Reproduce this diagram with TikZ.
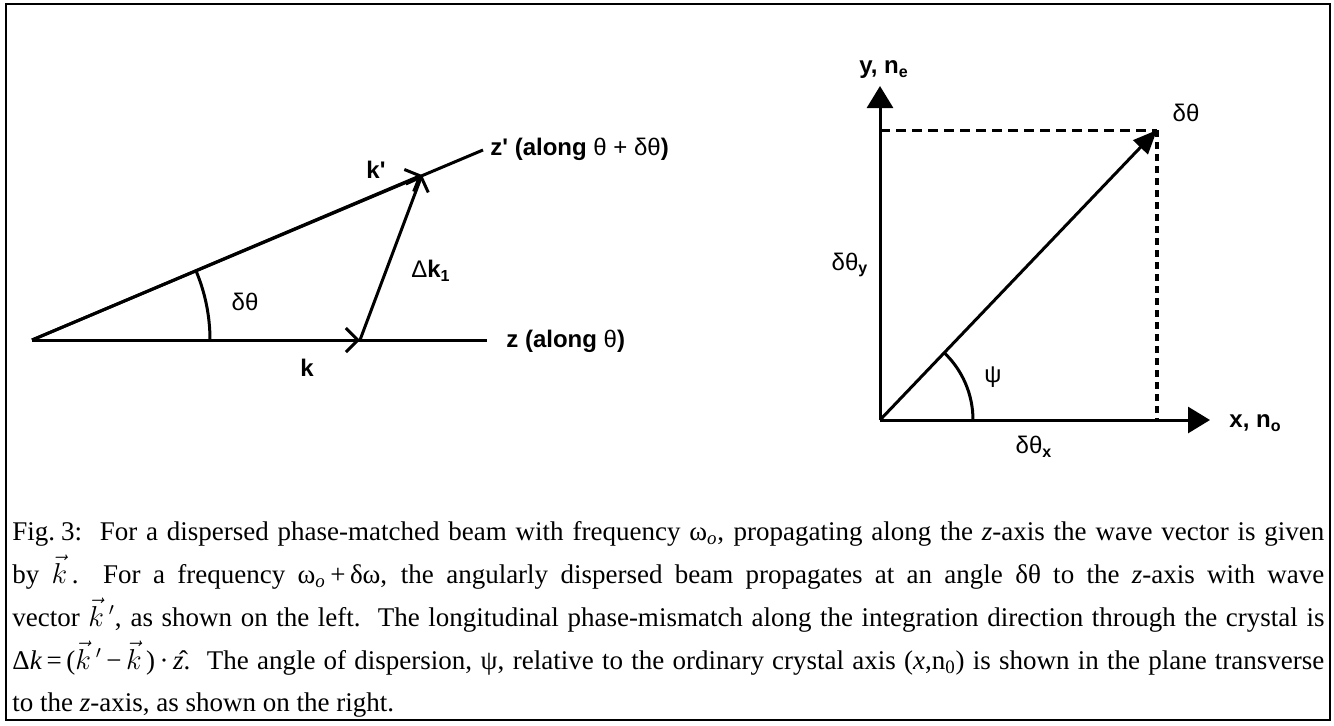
\documentclass[tikz,border=0pt]{standalone}
\usepackage{fontspec}
\setmainfont{Liberation Serif}
\newfontfamily\labfont{Liberation Sans}
\usetikzlibrary{arrows.meta,calc}
\newcommand{\gr}[1]{{\mdseries #1}}
\newcommand{\capline}[1]{\makebox[656pt][s]{#1}}
\begin{document}
\begin{tikzpicture}[x=0.5pt,y=-0.5pt,
  frame/.style={line width=1.4pt},
  stroke/.style={line width=1.5pt},
  barb/.style={stroke,-{Straight Barb[length=6pt,width=12pt,line width=1.5pt]}},
  axisarrow/.style={stroke,-{Triangle[length=11pt,width=13pt]}},
  vecarrow/.style={stroke,-{Triangle[length=12pt,width=10pt]}},
  dashh/.style={line width=1.5pt,dash pattern=on 5pt off 3pt},
  dashv/.style={line width=1.6pt,dash pattern=on 3.5pt off 2.5pt},
  lbl/.style={font=\labfont\bfseries\fontsize{12}{14}\selectfont,inner sep=0pt},
  captxt/.style={font=\fontsize{13.5}{16}\selectfont,inner sep=0pt,anchor=base west}]
\useasboundingbox (0,0) rectangle (1334,725);
\draw[frame] (6,4) rectangle (1330,720);

% ---------- left diagram ----------
\coordinate (O) at (32,340);
\coordinate (K) at (360,340);
\coordinate (Kp) at (422,175);
\coordinate (Zend) at (487,340);
\coordinate (Zpend) at (483,150);
\draw[stroke] (O) -- (Zend);
\draw[stroke] (O) -- (Zpend);
\draw[barb] (O) -- (K);
\draw[barb] (O) -- (Kp);
\draw[barb] (K) -- (Kp);
\draw[stroke] ($(O)+(178,0)$) arc[start angle=0,end angle=-22.9,radius=178];
\node[lbl] (lk) at (307,368) {k};
\node[lbl] (lkp) at (376,170) {k'};
\node[lbl] (ldk) at (431,271) {\gr{Δ}k\textsubscript{1}};
\node[lbl] (ldth) at (245,302) {\gr{δθ}};
\node[lbl,anchor=west] (lz) at (506,341) {z (along \gr{θ})};
\node[lbl,anchor=west] (lzp) at (490,149) {z' (along \gr{θ + δθ})};

% ---------- right diagram ----------
\coordinate (R) at (880,420);
\coordinate (Xtip) at (1210,420);
\coordinate (Ytip) at (880,86);
\coordinate (V) at (1157,130);
\coordinate (Vy) at (880,130);
\coordinate (Vx) at (1157,420);
\draw[dashh] (Vy) -- (V);
\draw[dashv] (V) -- (Vx);
\draw[axisarrow] (R) -- (Xtip);
\draw[axisarrow] (R) -- (Ytip);
\draw[vecarrow] (R) -- (V);
\draw[stroke] ($(R)+(93,0)$) arc[start angle=0,end angle=-46.3,radius=93];
\node[lbl] (lyn) at (884,70) {y, n\textsubscript{e}};
\node[lbl,anchor=west] (lxn) at (1229,423) {x, n\textsubscript{o}};
\node[lbl] (ldthv) at (1186,113) {\gr{δθ}};
\node[lbl] (ldthy) at (850,265) {\gr{δθ}\textsubscript{y}};
\node[lbl] (lpsi) at (993,377) {\gr{ψ}};
\node[lbl] (ldthx) at (1034,447) {\gr{δθ}\textsubscript{x}};

% ---------- caption ----------
\node[captxt] (c1) at (12,540) {\capline{Fig.\kern3pt 3:\ \ For a dispersed phase-matched beam with frequency ω\textsubscript{\textit{o}}, propagating along the \textit{z}-axis the wave vector is given}};
\node[captxt] (c2) at (12,583) {\capline{by $\vec{k}$\,.\ \ For a frequency ω\textsubscript{\textit{o}}\,+\,δω, the angularly dispersed beam propagates at an angle δθ to the \textit{z}-axis with wave}};
\node[captxt] (c3) at (12,626) {\capline{vector $\vec{k}\,'$, as shown on the left.\ \ The longitudinal phase-mismatch along the integration direction through the crystal is}};
\node[captxt] (c4) at (12,669) {\capline{Δ\textit{k}\,=\,($\vec{k}\,'$\,−\,$\vec{k}$\,)\,·\,\^{\textit{z}}.\ \ The angle of dispersion, ψ, relative to the ordinary crystal axis (\textit{x},n\textsubscript{0}) is shown in the plane transverse}};
\node[captxt] (c5) at (12,711) {to the \textit{z}-axis, as shown on the right.};
\end{tikzpicture}
\end{document}
